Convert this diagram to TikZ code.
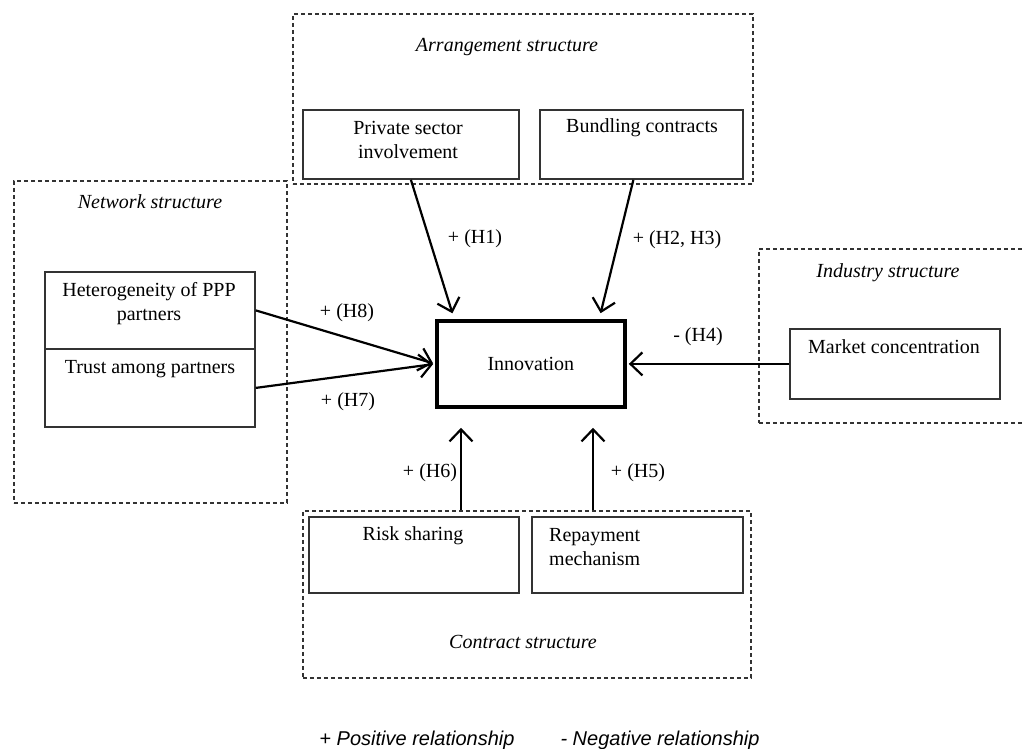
\documentclass[tikz,border=0pt]{standalone}
\usepackage{fontspec}
\setmainfont{Liberation Serif}
\newfontfamily\legendfont{Liberation Sans}
\usetikzlibrary{arrows.meta,calc}
\begin{document}
\begin{tikzpicture}[x=1pt,y=-1pt,
  every node/.style={font=\fontsize{20}{24}\selectfont, inner sep=0pt},
  group/.style={draw=black!80, line width=1.9pt, dash pattern=on 4pt off 3pt,
                anchor=north west, inner sep=0pt},
  factor/.style={draw=black!80, line width=1.8pt, fill=white, anchor=north west},
  title/.style={font=\fontsize{20}{24}\selectfont\itshape},
  link/.style={line width=2.2pt, -{Straight Barb[length=12pt,width=23pt,line width=2.2pt]}},
  legend/.style={font=\fontsize{20}{24}\legendfont\itshape}]
\useasboundingbox (0,0) rectangle (1022,749);

% structure groups (dashed frames)
\node[group, minimum width=460, minimum height=170] (arrgrp) at (292,13) {};
\node[group, minimum width=273, minimum height=322] (netgrp) at (13,180) {};
\node[group, minimum width=272, minimum height=174] (indgrp) at (758,248) {};
\node[group, minimum width=448, minimum height=167] (congrp) at (302,510) {};

% group titles
\node[title] (arrtitle) at (507,47) {Arrangement structure};
\node[title] (nettitle) at (150,202) {Network structure};
\node[title] (indtitle) at (888,273) {Industry structure};
\node[title] (contitle) at (523,642) {Contract structure};

% factor boxes
\node[factor, minimum width=216, minimum height=69] (private) at (302,109) {};
\node[factor, minimum width=203, minimum height=69] (bundling) at (539,109) {};
\node[factor, minimum width=210, minimum height=77] (hetero) at (44,271) {};
\node[factor, minimum width=210, minimum height=78] (trust) at (44,348) {};
\node[factor, minimum width=210, minimum height=70] (market) at (789,328) {};
\node[factor, minimum width=210, minimum height=76] (risk) at (308,516) {};
\node[factor, minimum width=211, minimum height=76] (repay) at (531,516) {};
\node[draw, line width=3.8pt, fill=white, anchor=north west,
      minimum width=188, minimum height=86] (innov) at (435,319) {Innovation};

% factor texts
\node[align=center] (privatetxt) at (408,140) {Private sector\\involvement};
\node (bundlingtxt) at (642,128) {Bundling contracts};
\node[align=center] (heterotxt) at (149,304) {Heterogeneity of PPP\\partners};
\node (trusttxt) at (150,369) {Trust among partners};
\node (markettxt) at (894,347) {Market concentration};
\node (risktxt) at (413,536) {Risk sharing};
\node[align=left, anchor=west] (repaytxt) at (549,547) {Repayment\\mechanism};

% hypothesised relationships
\draw[link, shorten >=6pt] (private.south) -- ($(innov.north west)!0.10!(innov.north east)$);
\draw[link, shorten >=6pt] ($(bundling.south)+(-8,0)$) -- ($(innov.north west)!0.856!(innov.north east)$);
\draw[link, shorten >=2pt] (hetero.east) -- (innov.west);
\draw[link, shorten >=2pt] (trust.east) -- (innov.west);
\draw[link, shorten >=2pt] (market.west) -- (innov.east);
\path (congrp.north west) ++(159,0) coordinate (h6s);
\path (congrp.north west) ++(291,0) coordinate (h5s);
\draw[link, shorten >=19pt] (h6s) -- (h6s |- innov.south);
\draw[link, shorten >=19pt] (h5s) -- (h5s |- innov.south);

% relationship labels
\node (h1) at (475,239) {+ (H1)};
\node (h23) at (677,240) {+ (H2, H3)};
\node (h8) at (347,313) {+ (H8)};
\node (h7) at (348,402) {+ (H7)};
\node (h4) at (698,337) {- (H4)};
\node (h6) at (430,473) {+ (H6)};
\node (h5) at (638,473) {+ (H5)};

% legend
\node[legend] (pos) at (417,740) {+ Positive relationship};
\node[legend] (neg) at (660,740) {- Negative relationship};
\end{tikzpicture}
\end{document}
